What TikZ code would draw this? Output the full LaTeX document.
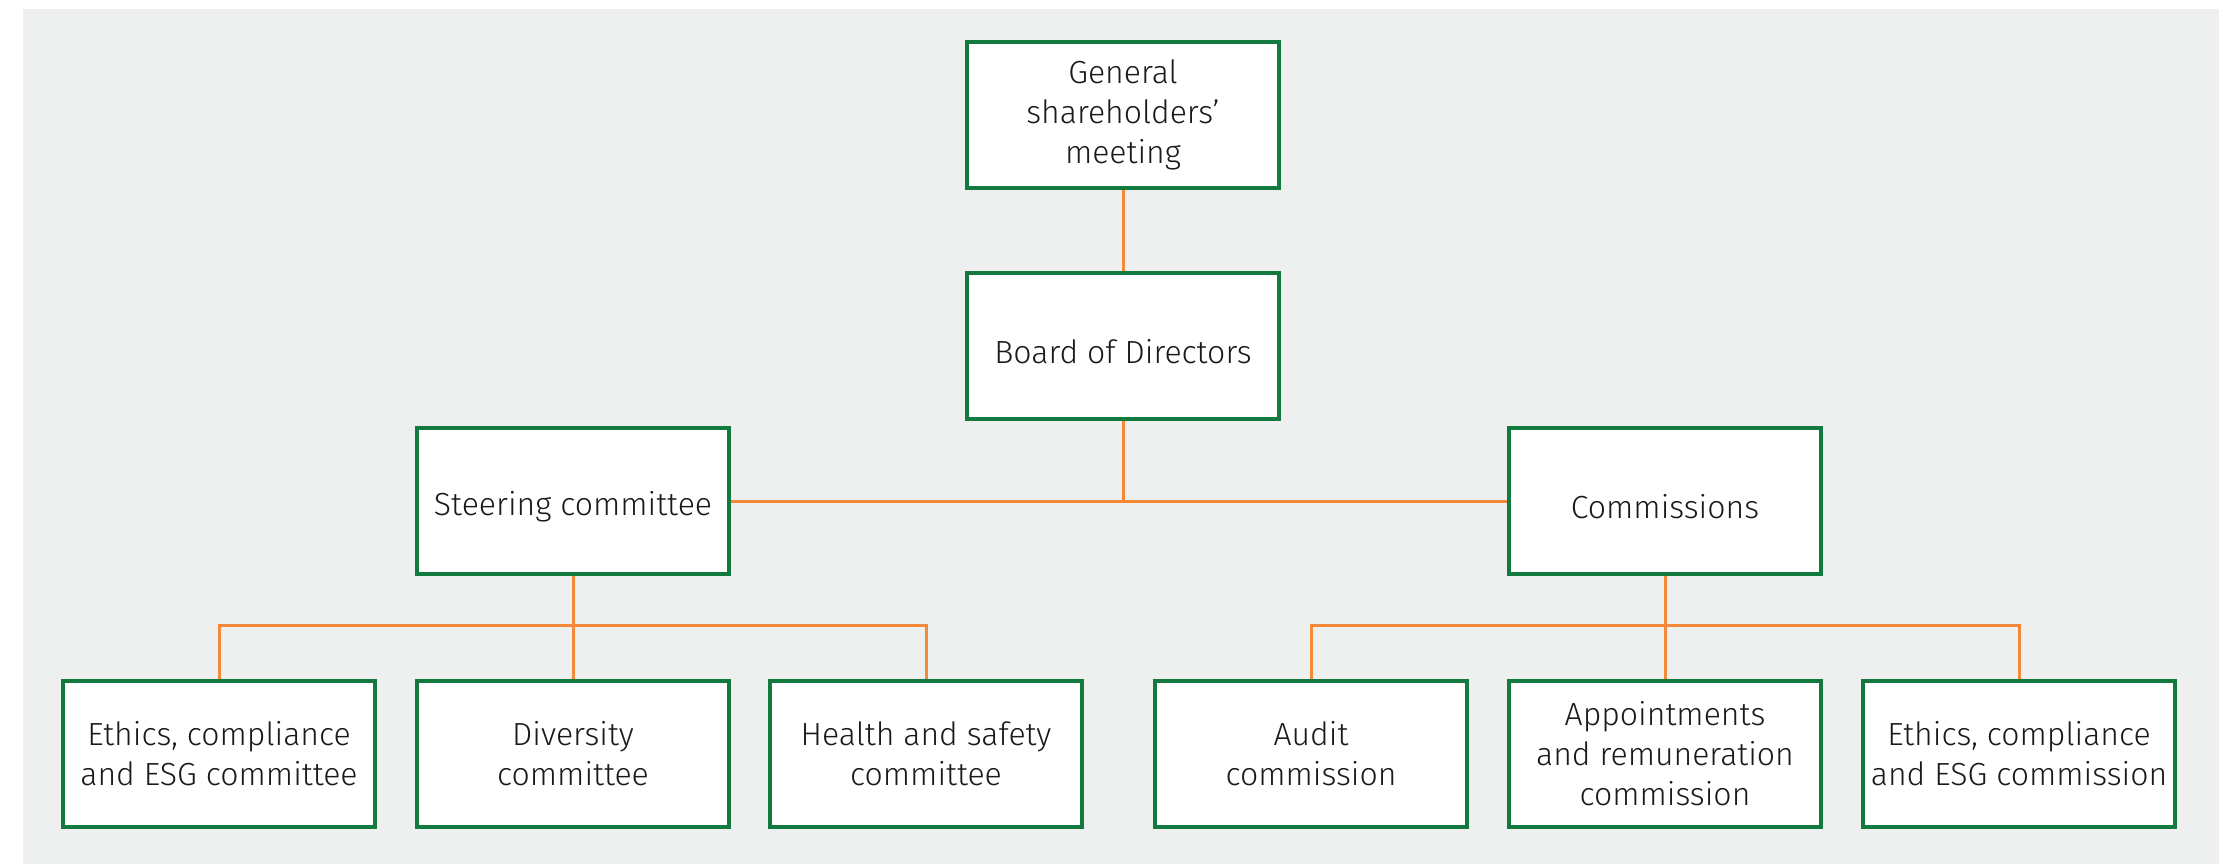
\documentclass[tikz,border=0pt]{standalone}
\usepackage{fontspec}
\setmainfont{Fira Sans}[UprightFont={* Light}]
\usetikzlibrary{positioning}
\definecolor{PanelGrey}{HTML}{EEF0EF}
\definecolor{BoxGreen}{HTML}{137A3F}
\definecolor{LinkOrange}{HTML}{F5893A}
\definecolor{TextDark}{HTML}{1A1A1A}

\begin{document}
\begin{tikzpicture}[
        x=1pt, y=-1pt,
        % Caja de organo
        orgbox/.style={
                rectangle,
                draw=BoxGreen,
                line width=3.5pt,
                fill=white,
                minimum width=312pt,
                minimum height=146pt,
                align=center,
                font=\fontsize{32}{40}\selectfont,
                text=TextDark,
                execute at begin node={\rule{0pt}{36pt}}
            },
        % Conector
        link/.style={
                draw=LinkOrange,
                line width=3pt
            }
    ]

    % FONDO
    \useasboundingbox (0,0) rectangle (2219,864);
    \fill[PanelGrey] (23,9) rectangle (2219,864);

    % NIVEL SUPERIOR
    \node[orgbox] (gsm) at (1123,115) {General\\shareholders'\\meeting};
    \node[orgbox] (board) at (1123,346) {Board of Directors};

    % NIVEL MEDIO
    \node[orgbox] (steering) at (573,501) {Steering committee};
    \node[orgbox] (commissions) at (1665,501) {Commissions};

    % NIVEL INFERIOR
    \node[orgbox] (ethicsC) at (219,754) {Ethics, compliance\\and ESG committee};
    \node[orgbox] (diversity) at (573,754) {Diversity\\committee};
    \node[orgbox] (health) at (926,754) {Health and safety\\committee};
    \node[orgbox] (audit) at (1311,754) {Audit\\commission};
    \node[orgbox] (appoint) at (1665,754) {Appointments\\and remuneration\\commission};
    \node[orgbox] (ethicsM) at (2019,754) {Ethics, compliance\\and ESG commission};

    % Barras de reparto
    \coordinate (busL) at (0,625);
    \coordinate (busR) at (0,625);

    % CONECTORES
    \draw[link] (gsm) -- (board);
    \draw[link] (steering) -- (commissions);
    \draw[link] (board) -- (board.south |- steering.east);

    \draw[link] (steering) -- (diversity);
    \draw[link] (ethicsC) -- (ethicsC.north |- busL) -- (health.north |- busL) -- (health);

    \draw[link] (commissions) -- (appoint);
    \draw[link] (audit) -- (audit.north |- busR) -- (ethicsM.north |- busR) -- (ethicsM);

\end{tikzpicture}
\end{document}
